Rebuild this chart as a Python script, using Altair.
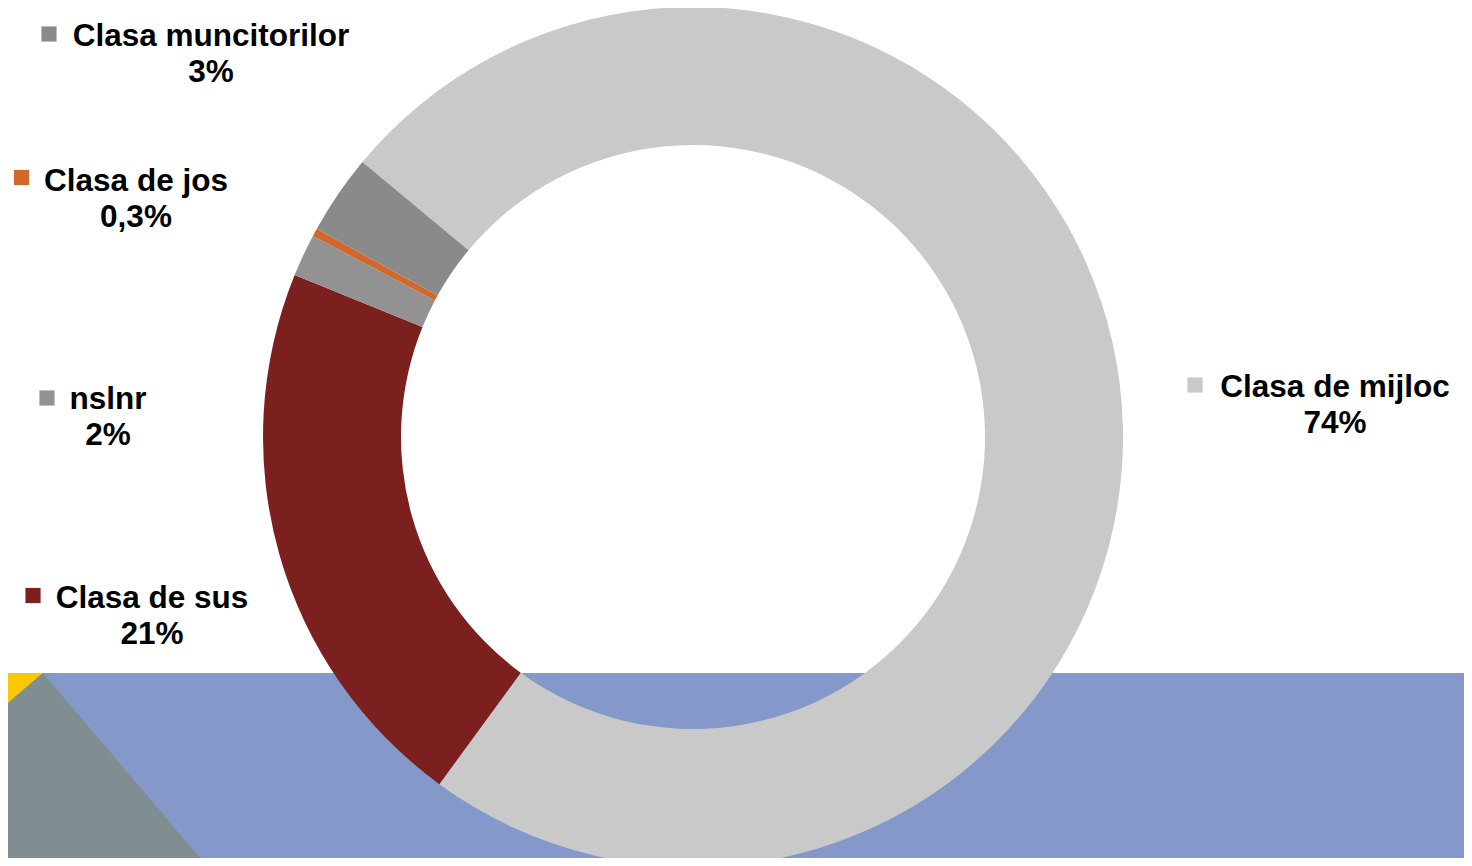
import math
import altair as alt
import pandas as pd

# ---- data ----
categories = ["Clasa de mijloc", "Clasa de sus", "nslnr", "Clasa de jos", "Clasa muncitorilor"]
values = [74.0, 21.1, 1.6, 0.3, 3.0]
pct_labels = ["74%", "21%", "2%", "0,3%", "3%"]

# ---- styles ----
colors = ["#C9C9C9", "#7B1F1F", "#929292", "#D2672B", "#8A8A8A"]
FONT = "Liberation Sans"
FS = 31.5

# ---- layout (reference pixel coordinates) ----
W, H = 1472, 866
M = 8  # page margin
CW, CH = W - 2 * M, H - 2 * M  # chart size that fits in the window
label_x = [1335, 152, 108, 136, 211]
label_base = [397, 608, 409, 191, 46]
square_x = [1195, 33, 47, 21.5, 49]
square_y = [385, 595.5, 398, 177.5, 34]
center_x, center_y = 693, 437
outer_r, inner_r = 430, 292
start_deg = 309.76

# decorative background shapes
bg_top = 673
yellow_x = [0, 43]
yellow_y = [673, 673]
yellow_y2 = [710, 673]
grey_x = [0, 43, 207]
grey_y = [710, 673, 866]
grey_y2 = [866, 866, 866]

xs = alt.Scale(domain=[M, M + CW], range=[0, CW], zero=False, nice=False)
ys = alt.Scale(domain=[M, M + CH], range=[0, CH], zero=False, nice=False)

df = pd.DataFrame({
    "cat": categories,
    "value": values,
    "pct": pct_labels,
    "order": list(range(len(categories))),
    "lx": label_x,
    "base1": label_base,
    "base2": [b + 36 for b in label_base],
    "sx": square_x,
    "sy": square_y,
})

color_scale = alt.Scale(domain=categories, range=colors)

blue = alt.Chart(pd.DataFrame({"a": [0]})).mark_rect(color="#8499C9").encode(
    x=alt.value(0), x2=alt.value(CW), y=alt.value(bg_top - M), y2=alt.value(CH)
)

yellow = alt.Chart(pd.DataFrame({"x": yellow_x, "y": yellow_y, "y2": yellow_y2})).mark_area(
    color="#F8C800", orient="vertical"
).encode(
    x=alt.X("x:Q", scale=xs, axis=None),
    y=alt.Y("y:Q", scale=ys, axis=None),
    y2="y2:Q",
)

grey = alt.Chart(pd.DataFrame({"x": grey_x, "y": grey_y, "y2": grey_y2})).mark_area(
    color="#808E92", orient="vertical"
).encode(
    x=alt.X("x:Q", scale=xs, axis=None),
    y=alt.Y("y:Q", scale=ys, axis=None),
    y2="y2:Q",
)

start = math.radians(start_deg)
donut = alt.Chart(df).mark_arc(innerRadius=inner_r, outerRadius=outer_r).encode(
    theta=alt.Theta("value:Q", stack=True, scale=alt.Scale(range=[start, start + 2 * math.pi])),
    color=alt.Color("cat:N", scale=color_scale, legend=None),
    order=alt.Order("order:Q"),
    x=alt.value(center_x - M),
    y=alt.value(center_y - M),
)

squares = alt.Chart(df).mark_square(size=230, opacity=1, filled=True).encode(
    x=alt.X("sx:Q", scale=xs, axis=None),
    y=alt.Y("sy:Q", scale=ys, axis=None),
    color=alt.Color("cat:N", scale=color_scale, legend=None),
)

text1 = alt.Chart(df).mark_text(
    font=FONT, fontSize=FS, fontWeight="bold", align="center", baseline="alphabetic", color="#000000"
).encode(
    x=alt.X("lx:Q", scale=xs, axis=None),
    y=alt.Y("base1:Q", scale=ys, axis=None),
    text="cat:N",
)

text2 = alt.Chart(df).mark_text(
    font=FONT, fontSize=FS, fontWeight="bold", align="center", baseline="alphabetic", color="#000000"
).encode(
    x=alt.X("lx:Q", scale=xs, axis=None),
    y=alt.Y("base2:Q", scale=ys, axis=None),
    text="pct:N",
)

chart = alt.layer(blue, yellow, grey, donut, squares, text1, text2).properties(
    width=CW,
    height=CH,
    padding=0,
    autosize=alt.AutoSizeParams(type="none"),
    background="#FFFFFF",
).configure_view(stroke=None)

chart.save("out.html", embed_options={"renderer": "svg", "actions": False})
